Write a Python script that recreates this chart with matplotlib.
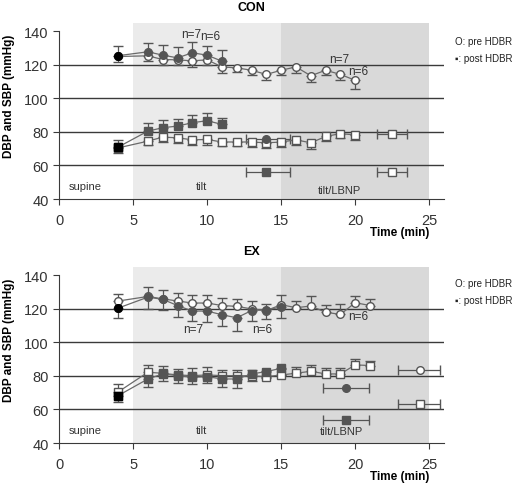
import matplotlib
matplotlib.use('Agg')
import matplotlib.pyplot as plt

plt.rcParams['font.family'] = ['Liberation Sans', 'DejaVu Sans']

# time points (min)
t_con_pre = [4, 6, 7, 8, 9, 10, 11, 12, 13, 14, 15, 16, 17, 18, 19, 20]
t_con_post = [4, 6, 7, 8, 9, 10, 11]
t_ex = [4, 6, 7, 8, 9, 10, 11, 12, 13, 14, 15, 16, 17, 18, 19, 20, 21]
t_ex_post = [4, 6, 7, 8, 9, 10, 11, 12, 13, 14, 15]

# CON
con_sbp_pre = [125, 125.4, 123.2, 123, 122.4, 123, 118.8, 118.2, 116.8, 114.3, 116.8, 118.8, 113.5, 116.8, 114.3, 110.8]
con_sbp_pre_err = [3, 3, 3, 3, 3.5, 3, 3.5, 2.5, 3, 3.4, 3, 3.5, 3.5, 3, 3.5, 5.4]
con_sbp_post = [125.5, 127.8, 125.8, 124.2, 127.2, 125.8, 122.2]
con_sbp_post_err = [5.5, 5.4, 5.8, 6.6, 6.6, 5.6, 6.6]
con_dbp_pre = [70.5, 74.5, 76.9, 76.5, 75.3, 75.5, 74, 74, 74, 73.5, 74, 75.3, 73.5, 77.3, 79, 78.2]
con_dbp_pre_err = [3, 2.5, 3, 3, 3, 3, 2.5, 2.5, 3, 3, 3, 3, 3.5, 3, 2.5, 3]
con_dbp_post = [71, 80.5, 82.5, 83.5, 85.5, 86.7, 84.5]
con_dbp_post_err = [4, 5, 4.8, 4.5, 4.8, 4.6, 4]

# CON tilt/LBNP end points (mean time +/- sd)
con_end_post_x = [14, 14]
con_end_post_y = [76, 56]
con_end_post_xerr = [[1.4, 1.4], [1.6, 1.6]]
con_end_pre_x = [22.5, 22.5]
con_end_pre_y = [79, 56]
con_end_pre_xerr = [[1.0, 1.0], [1.0, 1.0]]

# EX
ex_sbp_pre = [124.7, 127.4, 126, 124.7, 123.5, 123.5, 122, 121.5, 120, 119, 122.5, 120.7, 121.7, 118, 116.7, 123.7, 122]
ex_sbp_pre_err = [4, 5.5, 5, 4.5, 4.8, 5, 4.5, 4.5, 4.5, 4, 5.5, 4.3, 6, 4.6, 6, 3.7, 4]
ex_sbp_post = [120.5, 127, 125.7, 122, 118.7, 118.7, 116.5, 114.7, 119, 119.5, 121]
ex_sbp_post_err = [6, 7, 6.5, 7, 6, 6.5, 6.5, 7.7, 6, 5.5, 6.4]
ex_dbp_pre = [70.5, 82.2, 81.6, 80.6, 80.2, 80.6, 80.2, 80.2, 80, 79.6, 80.6, 81.6, 82.8, 81.2, 81.2, 86.6, 86.2]
ex_dbp_pre_err = [4.8, 4.6, 4.6, 3.5, 4.5, 4.5, 3.5, 3.5, 3.5, 3.5, 3.5, 3.5, 4, 3.5, 3.5, 3.4, 3]
ex_dbp_post = [68.3, 78.2, 81.2, 80.2, 79.2, 79.6, 78.2, 78.2, 81.2, 82.6, 84.6]
ex_dbp_post_err = [4, 5, 4, 4.5, 4, 4, 5, 5.5, 4, 4, 4]

ex_end_post_x = [19.4, 19.4]
ex_end_post_y = [73, 54]
ex_end_post_xerr = [[1.6, 1.6], [1.5, 1.5]]
ex_end_pre_x = [24.4, 24.4]
ex_end_pre_y = [83.6, 63]
ex_end_pre_xerr = [[1.5, 1.5], [1.3, 1.3]]

DARK = '#555555'
LINE = '#6a6a6a'


def series(ax, x, y, err, marker, filled, down):
    yerr = [err, [0] * len(err)] if down else [[0] * len(err), err]
    face = DARK if filled else 'white'
    ax.errorbar(x, y, yerr=yerr, fmt='-', marker=marker, color=LINE, mfc=face, mec=DARK,
                ms=5.5, lw=0.9, ecolor=DARK, elinewidth=0.9, capsize=3.5, zorder=4)
    if filled:
        ax.plot(x[0], y[0], marker=marker, color='black', ms=5.5, zorder=5)


def end_points(ax, x, y, xerr, markers, filled):
    face = DARK if filled else 'white'
    for xi, yi, lo, hi, m in zip(x, y, xerr[0], xerr[1], markers):
        ax.errorbar([xi], [yi], xerr=[[lo], [hi]], fmt=m, mfc=face, mec=DARK, ms=5.5,
                    ecolor=DARK, elinewidth=0.9, capsize=3.5, zorder=4)


def setup(ax, title):
    ax.axvspan(5, 15, color='#ebebeb', zorder=0, lw=0)
    ax.axvspan(15, 25, color='#d9d9d9', zorder=0, lw=0)
    for yy in [60, 80, 100, 120]:
        ax.axhline(yy, color='#3a3a3a', lw=1, zorder=1)
    ax.set_xlim(0, 26)
    ax.set_ylim(40, 145)
    ax.set_xticks([0, 5, 10, 15, 20, 25])
    ax.set_yticks([40, 60, 80, 100, 120, 140])
    ax.spines['top'].set_visible(False)
    ax.spines['right'].set_visible(False)
    ax.spines['left'].set_bounds(40, 140)
    ax.spines['left'].set_color('#3a3a3a')
    ax.spines['bottom'].set_color('#3a3a3a')
    ax.tick_params(direction='out', length=4, labelsize=10.5, colors='#3a3a3a', labelcolor='#333333')
    ax.tick_params(axis='x', pad=6)
    ax.set_title(title, fontsize=9, weight='bold', pad=9)
    ax.set_ylabel('DBP and SBP (mmHg)', fontsize=8.5, weight='bold')
    ax.yaxis.set_label_coords(-0.115, 0.59)
    ax.text(25, -0.19, 'Time (min)', fontsize=8.5, weight='bold', ha='right', va='center',
            transform=ax.get_xaxis_transform())
    ax.text(1.75, 48, 'supine', fontsize=8, ha='center', va='center', color='#333333')
    ax.text(9.6, 48, 'tilt', fontsize=8, ha='center', va='center', color='#333333')


fig = plt.figure(figsize=(5.2, 4.89), dpi=100)
ax1 = fig.add_axes([0.1135, 0.591, 0.7405, 0.36])
ax2 = fig.add_axes([0.1135, 0.092, 0.7405, 0.36])

setup(ax1, 'CON')
series(ax1, t_con_pre, con_sbp_pre, con_sbp_pre_err, 'o', False, True)
series(ax1, t_con_post, con_sbp_post, con_sbp_post_err, 'o', True, False)
series(ax1, t_con_pre, con_dbp_pre, con_dbp_pre_err, 's', False, True)
series(ax1, t_con_post, con_dbp_post, con_dbp_post_err, 's', True, False)
end_points(ax1, con_end_post_x, con_end_post_y, con_end_post_xerr, ['o', 's'], True)
end_points(ax1, con_end_pre_x, con_end_pre_y, con_end_pre_xerr, ['s', 's'], False)
ax1.text(18.9, 45.5, 'tilt/LBNP', fontsize=8, ha='center', va='center', color='#333333')
ax1.text(8.9, 138.5, 'n=7', fontsize=8.5, ha='center', va='center', color='#333333')
ax1.text(10.2, 137, 'n=6', fontsize=8.5, ha='center', va='center', color='#333333')
ax1.text(18.9, 123.5, 'n=7', fontsize=8.5, ha='center', va='center', color='#333333')
ax1.text(20.2, 116.5, 'n=6', fontsize=8.5, ha='center', va='center', color='#333333')

setup(ax2, 'EX')
series(ax2, t_ex, ex_sbp_pre, ex_sbp_pre_err, 'o', False, False)
series(ax2, t_ex_post, ex_sbp_post, ex_sbp_post_err, 'o', True, True)
series(ax2, t_ex, ex_dbp_pre, ex_dbp_pre_err, 's', False, False)
series(ax2, t_ex_post, ex_dbp_post, ex_dbp_post_err, 's', True, True)
end_points(ax2, ex_end_post_x, ex_end_post_y, ex_end_post_xerr, ['o', 's'], True)
end_points(ax2, ex_end_pre_x, ex_end_pre_y, ex_end_pre_xerr, ['o', 's'], False)
ax2.text(19.05, 47, 'tilt/LBNP', fontsize=8, ha='center', va='center', color='#333333')
ax2.text(9.05, 108, 'n=7', fontsize=8.5, ha='center', va='center', color='#333333')
ax2.text(13.7, 108, 'n=6', fontsize=8.5, ha='center', va='center', color='#333333')
ax2.text(20.2, 115.5, 'n=6', fontsize=8.5, ha='center', va='center', color='#333333')

# legend text
for y0 in [1 - 42 / 489, 1 - 284 / 489]:
    fig.text(455 / 520, y0, 'O: pre HDBR', fontsize=7, va='center', color='#222222')
    fig.text(455 / 520, y0 - 17 / 489, '\u25aa: post HDBR', fontsize=7, va='center', color='#222222')

fig.savefig('out.png', dpi=100)
